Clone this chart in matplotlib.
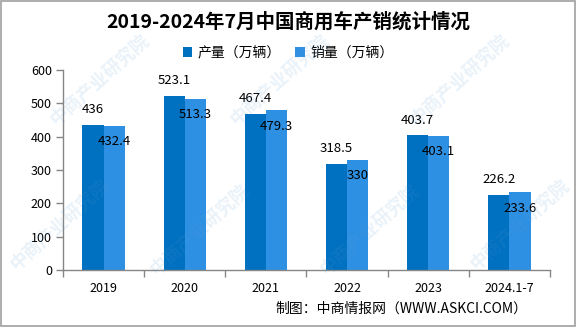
import matplotlib
matplotlib.use('Agg')
import matplotlib.pyplot as plt
from matplotlib.patches import Rectangle
import numpy as np

plt.rcParams['font.family'] = ['Noto Sans CJK SC', 'DejaVu Sans']

categories = ['2019', '2020', '2021', '2022', '2023', '2024.1-7']
production = [436, 523.1, 467.4, 318.5, 403.7, 226.2]
sales = [432.4, 513.3, 479.3, 330, 403.1, 233.6]
prod_labels = ['436', '523.1', '467.4', '318.5', '403.7', '226.2']
sales_labels = ['432.4', '513.3', '479.3', '330', '403.1', '233.6']

dark = '#0070C0'
light = '#2E90E2'
axis_gray = '#868686'

fig = plt.figure(figsize=(5.76, 3.27), dpi=100)
ax = fig.add_axes([63 / 576, 1 - 270 / 327, 487 / 576, 200 / 327])

x = np.arange(len(categories))
w = 0.26
b1 = ax.bar(x - w / 2, production, w, color=dark, label='产量（万辆）', zorder=2)
b2 = ax.bar(x + w / 2, sales, w, color=light, label='销量（万辆）', zorder=2)

for rect, txt in zip(b1, prod_labels):
    ax.annotate(txt, (rect.get_x() + rect.get_width() / 2, rect.get_height()),
                xytext=(0, 11), textcoords='offset points',
                ha='center', va='center', fontsize=9.5, zorder=3)
for rect, txt in zip(b2, sales_labels):
    ax.annotate(txt, (rect.get_x() + rect.get_width() / 2, rect.get_height()),
                xytext=(0, -11.5), textcoords='offset points',
                ha='center', va='center', fontsize=9.5, zorder=3)

ax.set_xlim(-0.5, len(categories) - 0.5)
ax.set_ylim(0, 600)
ax.set_yticks(range(0, 601, 100))
ax.set_xticks(np.arange(-0.5, len(categories), 1.0))
ax.set_xticklabels([])
ax.set_xticks(x, minor=True)
ax.set_xticklabels(categories, minor=True)
ax.tick_params(axis='x', which='major', length=5, color=axis_gray, width=1)
ax.tick_params(axis='x', which='minor', length=0, pad=9, labelsize=9)
ax.tick_params(axis='y', length=5, color=axis_gray, width=1, pad=3, labelsize=9)

for side in ['top', 'right']:
    ax.spines[side].set_visible(False)
for side in ['left', 'bottom']:
    ax.spines[side].set_color(axis_gray)
    ax.spines[side].set_linewidth(1)

fig.text(0.5, 1 - 22 / 327, '2019-2024年7月中国商用车产销统计情况',
         ha='center', va='center', fontsize=14, fontweight='bold')
fig.legend(handles=[b1, b2], loc='center', bbox_to_anchor=(0.5, 1 - 53 / 327),
           ncol=2, frameon=False, fontsize=10, handlelength=0.7, handleheight=0.7,
           handletextpad=0.4, columnspacing=1.0)
fig.text(527 / 576, 1 - 309 / 327, '制图：中商情报网（WWW.ASKCI.COM）',
         ha='right', va='center', fontsize=10)

# watermark, kept inside the frame
wm = [(100, 80), (280, 80), (460, 80), (60, 225), (200, 230), (370, 230), (520, 225)]
for px, py in wm:
    fig.text(px / 576, 1 - py / 327, '中商产业研究院', ha='center', va='center',
             rotation=42, fontsize=13, fontweight='bold', color='#5b9bd5',
             alpha=0.13, zorder=10)

fig.add_artist(Rectangle((0.001, 0.002), 0.997, 0.995, transform=fig.transFigure,
                         fill=False, edgecolor='#a0a0a0', linewidth=1.2))

fig.savefig('out.png', dpi=100)
